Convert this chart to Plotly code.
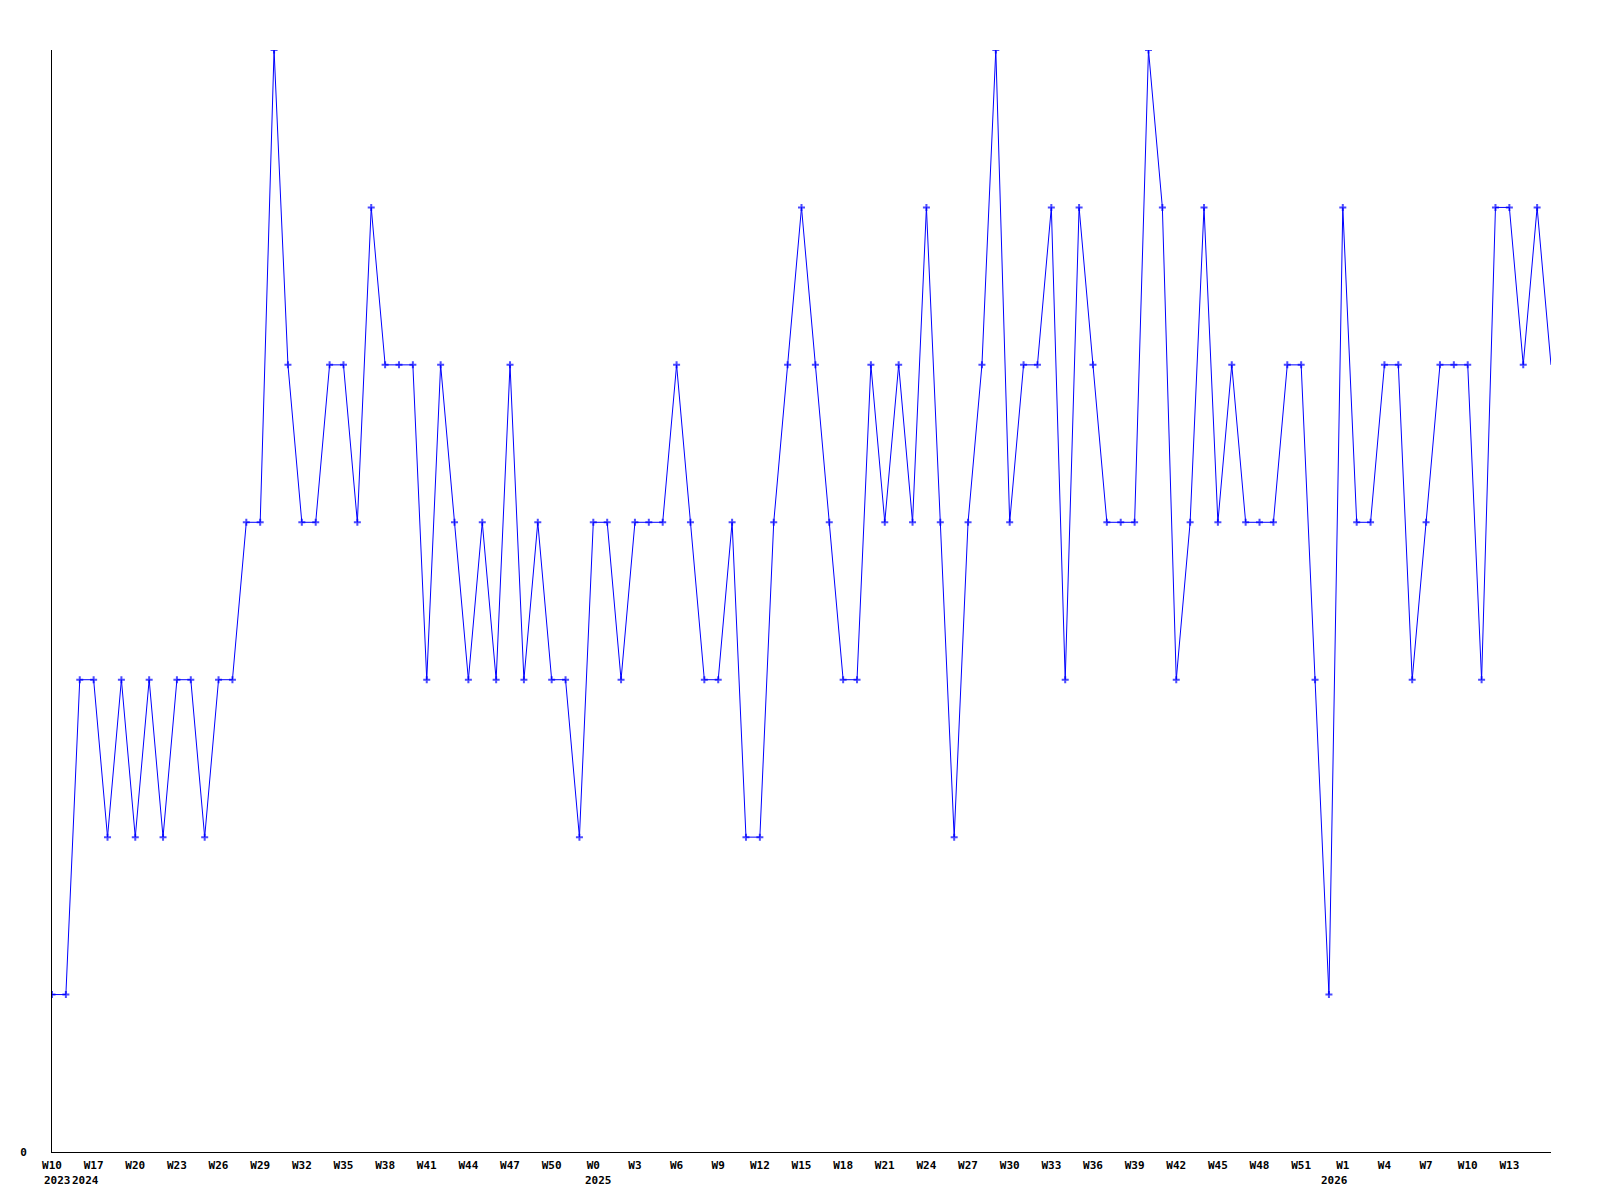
import plotly.graph_objects as go

values = [1, 1, 3, 3, 2, 3, 2, 3, 2, 3,
          3, 2, 3, 3, 4, 4, 7, 5, 4, 4,
          5, 5, 4, 6, 5, 5, 5, 3, 5, 4,
          3, 4, 3, 5, 3, 4, 3, 3, 2, 4,
          4, 3, 4, 4, 4, 5, 4, 3, 3, 4,
          2, 2, 4, 5, 6, 5, 4, 3, 3, 5,
          4, 5, 4, 6, 4, 2, 4, 5, 7, 4,
          5, 5, 6, 3, 6, 5, 4, 4, 4, 7,
          6, 3, 4, 6, 4, 5, 4, 4, 4, 5,
          5, 3, 1, 6, 4, 4, 5, 5, 3, 4,
          5, 5, 5, 3, 6, 6, 5, 6, 5]

tick_labels = ["W10", "W17", "W20", "W23", "W26", "W29", "W32", "W35", "W38",
               "W41", "W44", "W47", "W50", "W0", "W3", "W6", "W9", "W12",
               "W15", "W18", "W21", "W24", "W27", "W30", "W33", "W36", "W39",
               "W42", "W45", "W48", "W51", "W1", "W4", "W7", "W10", "W13"]
tick_step = 3

year_labels = ["2023", "2024", "2025", "2026"]
year_index = [0, 2, 39, 92]

x = list(range(len(values)))
tick_pos = [i * tick_step for i in range(len(tick_labels))]
marker_sizes = [5] * (len(values) - 1) + [0]

FONT = "DejaVu Sans Mono"

fig = go.Figure()
fig.add_trace(go.Scatter(
    x=x, y=values, mode="lines+markers",
    line=dict(color="#0000ff", width=1),
    marker=dict(symbol="cross-thin", size=marker_sizes, color="#0000ff",
                line=dict(width=2, color="#0000ff")),
    hoverinfo="skip", showlegend=False,
))

for lab, idx in zip(year_labels, year_index):
    fig.add_annotation(
        x=idx, y=0, xref="x", yref="paper", text="<b>" + lab + "</b>",
        showarrow=False, xanchor="left", yanchor="top", xshift=-10, yshift=-20,
        font=dict(family=FONT, size=11, color="black"),
    )

fig.update_layout(
    width=1584, height=1184, autosize=False,
    margin=dict(l=42, r=41, t=42, b=40, pad=0),
    plot_bgcolor="white", paper_bgcolor="white",
    font=dict(family=FONT, size=11, color="black"),
)
fig.update_xaxes(
    range=[0, len(values) - 1], tickmode="array", tickvals=tick_pos,
    ticktext=["<b>" + t + "</b>" for t in tick_labels],
    showgrid=False, zeroline=False, showline=True, linecolor="black",
    linewidth=1, ticks="", tickangle=0, ticklabelstandoff=3,
    tickfont=dict(family=FONT, size=11, color="black"),
)
fig.update_yaxes(
    range=[0, 7], tickmode="array", tickvals=[0], ticktext=["<b>0</b>"],
    showgrid=False, zeroline=False, showline=True, linecolor="black",
    linewidth=1, ticks="", ticklabelstandoff=22,
    tickfont=dict(family=FONT, size=11, color="black"),
)

fig.write_html("out.html")
